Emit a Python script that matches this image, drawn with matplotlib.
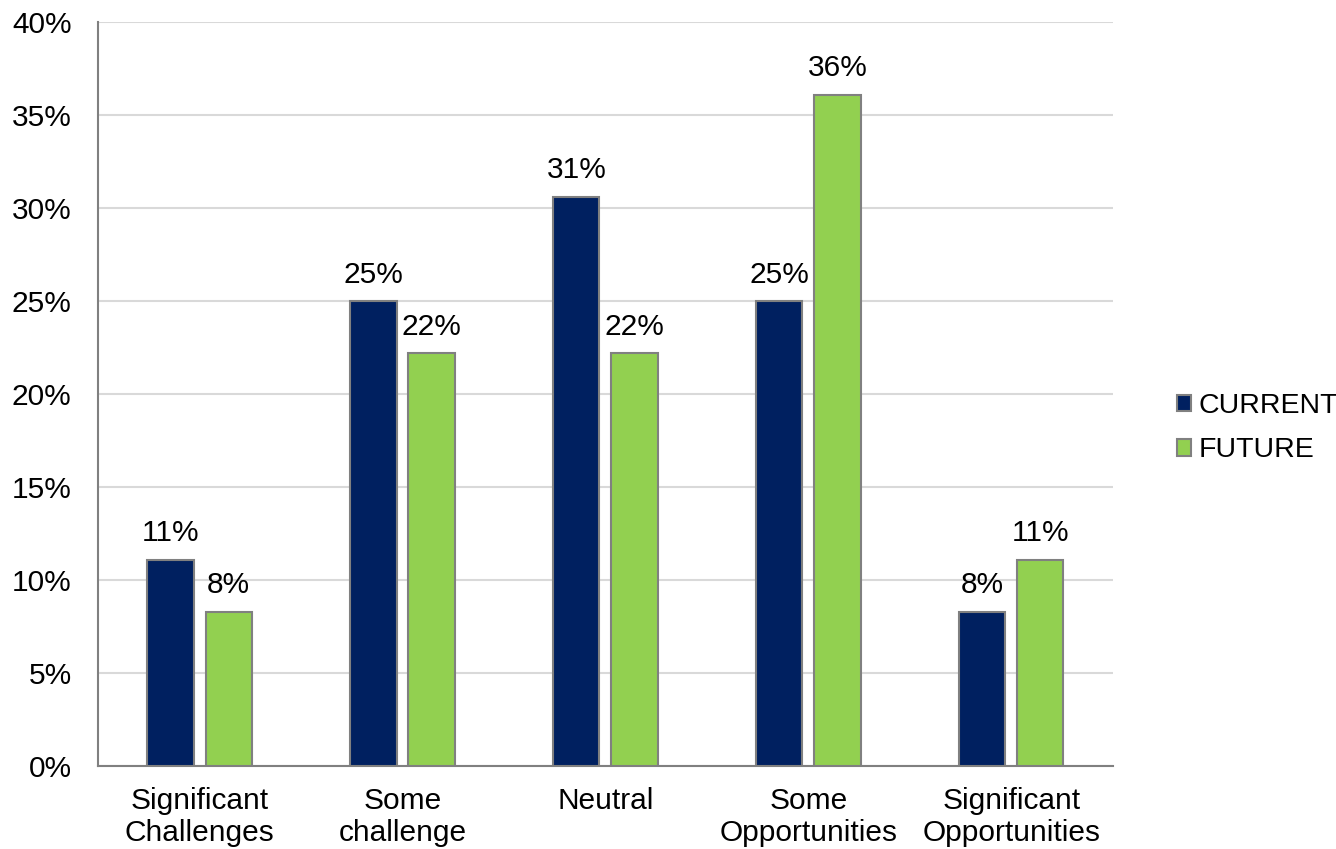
import numpy as np
import matplotlib
matplotlib.use("Agg")
import matplotlib.pyplot as plt

plt.rcParams['font.family'] = ['Liberation Sans', 'DejaVu Sans']

## chart data
categories = ["Significant\nChallenges", "Some\nchallenge", "Neutral",
              "Some\nOpportunities", "Significant\nOpportunities"]
current = [11.1, 25.0, 30.6, 25.0, 8.3]
future = [8.3, 22.2, 22.2, 36.1, 11.1]
yticks = [0, 5, 10, 15, 20, 25, 30, 35, 40]

navy = "#002060"
green = "#92D050"
edge = "#808080"
fs = 21.5

fig = plt.figure(figsize=(13.36, 8.49), dpi=100)
ax = fig.add_axes([0.0734, 0.0978, 0.7596, 0.8762])

x = np.arange(len(categories))
w = 0.227   # bar width
off = 0.143 # offset of each bar from category centre

b1 = ax.bar(x - off, current, w, color=navy, edgecolor=edge, linewidth=1.5,
            label="CURRENT", zorder=3)
b2 = ax.bar(x + off, future, w, color=green, edgecolor=edge, linewidth=1.5,
            label="FUTURE", zorder=3)

for bars, vals in ((b1, current), (b2, future)):
    for r, v in zip(bars, vals):
        ax.annotate(f"{v:.0f}%", (r.get_x() + r.get_width() / 2, v),
                    xytext=(0, 9), textcoords="offset points",
                    ha="center", va="bottom", fontsize=fs)

ax.set_xlim(-0.5, len(categories) - 0.5)
ax.set_ylim(0, 40)
ax.set_yticks(yticks)
ax.set_yticklabels([f"{t}%" for t in yticks])
ax.set_xticks(x)
ax.set_xticklabels(categories, linespacing=1.2)
ax.tick_params(axis="both", length=0, labelsize=fs)
ax.tick_params(axis="x", pad=15)
ax.tick_params(axis="y", pad=19)

ax.grid(axis="y", color="#d9d9d9", linewidth=1.5, zorder=0)
ax.set_axisbelow(True)
for s in ("top", "right"):
    ax.spines[s].set_visible(False)
for s in ("left", "bottom"):
    ax.spines[s].set_color(edge)
    ax.spines[s].set_linewidth(1.5)

ax.legend(loc="center left", bbox_to_anchor=(1.063, 0.454), frameon=False,
          fontsize=20.5, handlelength=0.5, handleheight=0.5, handletextpad=0.25,
          labelspacing=0.65, borderpad=0, borderaxespad=0)

fig.savefig("out.png", dpi=100)
